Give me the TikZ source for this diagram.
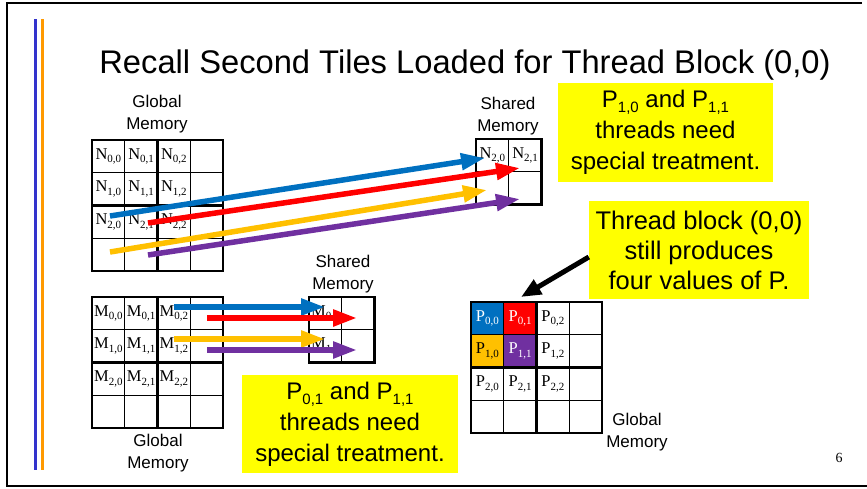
\documentclass[tikz,border=0pt]{standalone}
\usepackage{fontspec}
\setmainfont{Liberation Sans}
\newfontfamily\cellfont{Liberation Serif}
\usetikzlibrary{arrows.meta}
\definecolor{tblue}{HTML}{0070C0}
\definecolor{tred}{HTML}{FF0000}
\definecolor{torange}{HTML}{FFC000}
\definecolor{tpurple}{HTML}{7030A0}
\definecolor{tyellow}{HTML}{FFFF00}
\definecolor{barblue}{HTML}{3333CC}
\definecolor{barorange}{HTML}{FF9900}
% matrix element label, e.g. \elem{N}{0,0}
\newcommand\elem[2]{{\cellfont\fontsize{16.5}{16.5}\selectfont #1\raisebox{-3.5pt}{\fontsize{11}{11}\selectfont #2}}}
% subscript in the call-out boxes
\newcommand\callsub[1]{\raisebox{-5pt}{\fontsize{15}{15}\selectfont #1}}
\tikzset{
  gthin/.style={line width=1.3pt,black},
  gthick/.style={line width=2.8pt,black},
  cell/.style={inner sep=0pt,anchor=center},
  memlabel/.style={align=center,font=\fontsize{17}{22}\selectfont,inner sep=0pt},
  callout/.style={fill=tyellow,align=center,inner sep=0pt,
    font=\fontsize{24}{31}\selectfont},
  flow/.style={line width=5.5pt,-{Triangle[length=24pt,width=16pt]}},
}
\begin{document}
\begin{tikzpicture}[x=1pt,y=-1pt]
\useasboundingbox (0,0) rectangle (867,488);

% slide frame and side bars
\draw[line width=2pt] (862,3) -- (7,3) -- (7,486) -- (867,486);
\draw[barblue,line width=2.8pt] (35.5,19) -- (35.5,470);
\draw[barorange,line width=2.8pt] (42.5,19) -- (42.5,470);

% title
\node[font=\fontsize{32.7}{32.7}\selectfont,anchor=base] (title) at (465,73)
  {Recall Second Tiles Loaded for Thread Block (0,0)};

\def\s{32.75}

% ---------- N in global memory ----------
\foreach \k in {1,3} {
  \draw[gthin] (92+\k*\s,140) -- ++(0,4*\s);
  \draw[gthin] (92,140+\k*\s) -- ++(4*\s,0);
}
\draw[gthick] (92,140) rectangle ++(4*\s,4*\s);
\draw[gthick] (92+2*\s,140) -- ++(0,4*\s);
\draw[gthick] (92,140+2*\s) -- ++(4*\s,0);
\foreach \i in {0,1,2} \foreach \j in {0,1,2}
  \node[cell] (n\i\j) at (92+\j*\s+0.5*\s,140+\i*\s+0.5*\s) {\elem{N}{\i,\j}};
\node[memlabel] (nglob) at (157,114) {Global\\Memory};

% ---------- N tile in shared memory ----------
\draw[gthin] (476+\s,139) -- ++(0,2*\s);
\draw[gthin] (476,139+\s) -- ++(2*\s,0);
\draw[gthick] (476,139) rectangle ++(2*\s,2*\s);
\node[cell] (ns0) at (476+0.5*\s,139+0.5*\s) {\elem{N}{2,0}};
\node[cell] (ns1) at (476+1.5*\s,139+0.5*\s) {\elem{N}{2,1}};
\node[memlabel] (nshared) at (508,116) {Shared\\Memory};

% ---------- M in global memory ----------
\foreach \k in {1,3} {
  \draw[gthin] (92+\k*\s,297) -- ++(0,4*\s);
  \draw[gthin] (92,297+\k*\s) -- ++(4*\s,0);
}
\draw[gthick] (92,297) rectangle ++(4*\s,4*\s);
\draw[gthick] (92+2*\s,297) -- ++(0,4*\s);
\draw[gthick] (92,297+2*\s) -- ++(4*\s,0);
\foreach \i in {0,1,2} \foreach \j in {0,1,2}
  \node[cell] (m\i\j) at (92+\j*\s+0.5*\s,297+\i*\s+0.5*\s) {\elem{M}{\i,\j}};
\node[memlabel] (mglob) at (158,453) {Global\\Memory};

% ---------- M tile in shared memory ----------
\draw[gthin] (309+\s,297) -- ++(0,2*\s);
\draw[gthin] (309,297+\s) -- ++(2*\s,0);
\draw[gthick] (309,297) rectangle ++(2*\s,2*\s);
\node[cell] (ms0) at (309+0.5*\s,297+0.5*\s) {\elem{M}{0,2}};
\node[cell] (ms1) at (309+0.5*\s,297+1.5*\s) {\elem{M}{1,2}};
\node[memlabel] (mshared) at (343,274) {Shared\\Memory};

% ---------- P in global memory ----------
\fill[tblue]   (471,302) rectangle ++(\s,\s);
\fill[tred]    (471+\s,302) rectangle ++(\s,\s);
\fill[torange] (471,302+\s) rectangle ++(\s,\s);
\fill[tpurple] (471+\s,302+\s) rectangle ++(\s,\s);
\foreach \k in {1,3} {
  \draw[gthin] (471+\k*\s,302) -- ++(0,4*\s);
  \draw[gthin] (471,302+\k*\s) -- ++(4*\s,0);
}
\draw[gthick] (471,302) rectangle ++(4*\s,4*\s);
\draw[gthick] (471+2*\s,302) -- ++(0,4*\s);
\draw[gthick] (471,302+2*\s) -- ++(4*\s,0);
\foreach \i/\j/\c in {0/0/white,0/1/white,0/2/black,1/0/black,1/1/white,1/2/black,
                      2/0/black,2/1/black,2/2/black}
  \node[cell,text=\c] (p\i\j) at (471+\j*\s+0.5*\s,302+\i*\s+0.5*\s) {\elem{P}{\i,\j}};
\node[memlabel] (pglob) at (637,432) {Global\\Memory};

% page number
\node[font=\cellfont\fontsize{14}{14}\selectfont] (pageno) at (839,458) {6};

% ---------- loads of the N tile ----------
\coordinate (nb0) at (110,216); \coordinate (nb1) at (485,158);
\coordinate (nr0) at (148,223); \coordinate (nr1) at (520,168);
\coordinate (no0) at (110,252); \coordinate (no1) at (487,190);
\coordinate (np0) at (148,255); \coordinate (np1) at (520,199);
\draw[flow,tblue]   (nb0) -- (nb1);
\draw[flow,tred]    (nr0) -- (nr1);
\draw[flow,torange] (no0) -- (no1);
\draw[flow,tpurple] (np0) -- (np1);

% ---------- loads of the M tile ----------
\coordinate (mb0) at (174,307); \coordinate (mb1) at (325,307);
\coordinate (mr0) at (207,318); \coordinate (mr1) at (357,318);
\coordinate (mo0) at (174,339); \coordinate (mo1) at (325,339);
\coordinate (mp0) at (207,350); \coordinate (mp1) at (357,350);
\draw[flow,tblue]   (mb0) -- (mb1);
\draw[flow,tred]    (mr0) -- (mr1);
\draw[flow,torange] (mo0) -- (mo1);
\draw[flow,tpurple] (mp0) -- (mp1);

% ---------- call-outs ----------
\node[callout,minimum width=215pt,minimum height=99pt] (noteN) at (665.5,132.5)
  {P\callsub{1,0} and P\callsub{1,1}\\threads need\\special treatment.};
\node[callout,minimum width=216pt,minimum height=98pt] (noteM) at (350,424)
  {P\callsub{0,1} and P\callsub{1,1}\\threads need\\special treatment.};
\node[callout,minimum width=220pt,minimum height=98pt,
      font=\fontsize{25.5}{30}\selectfont] (noteP) at (699,250)
  {Thread block (0,0)\\still produces\\four values of P.};

\coordinate (ptarget) at (521,297);
\draw[line width=5pt,-{Triangle[length=20pt,width=16pt]}]
  ([yshift=-7pt]noteP.west) -- (ptarget);
\end{tikzpicture}
\end{document}
